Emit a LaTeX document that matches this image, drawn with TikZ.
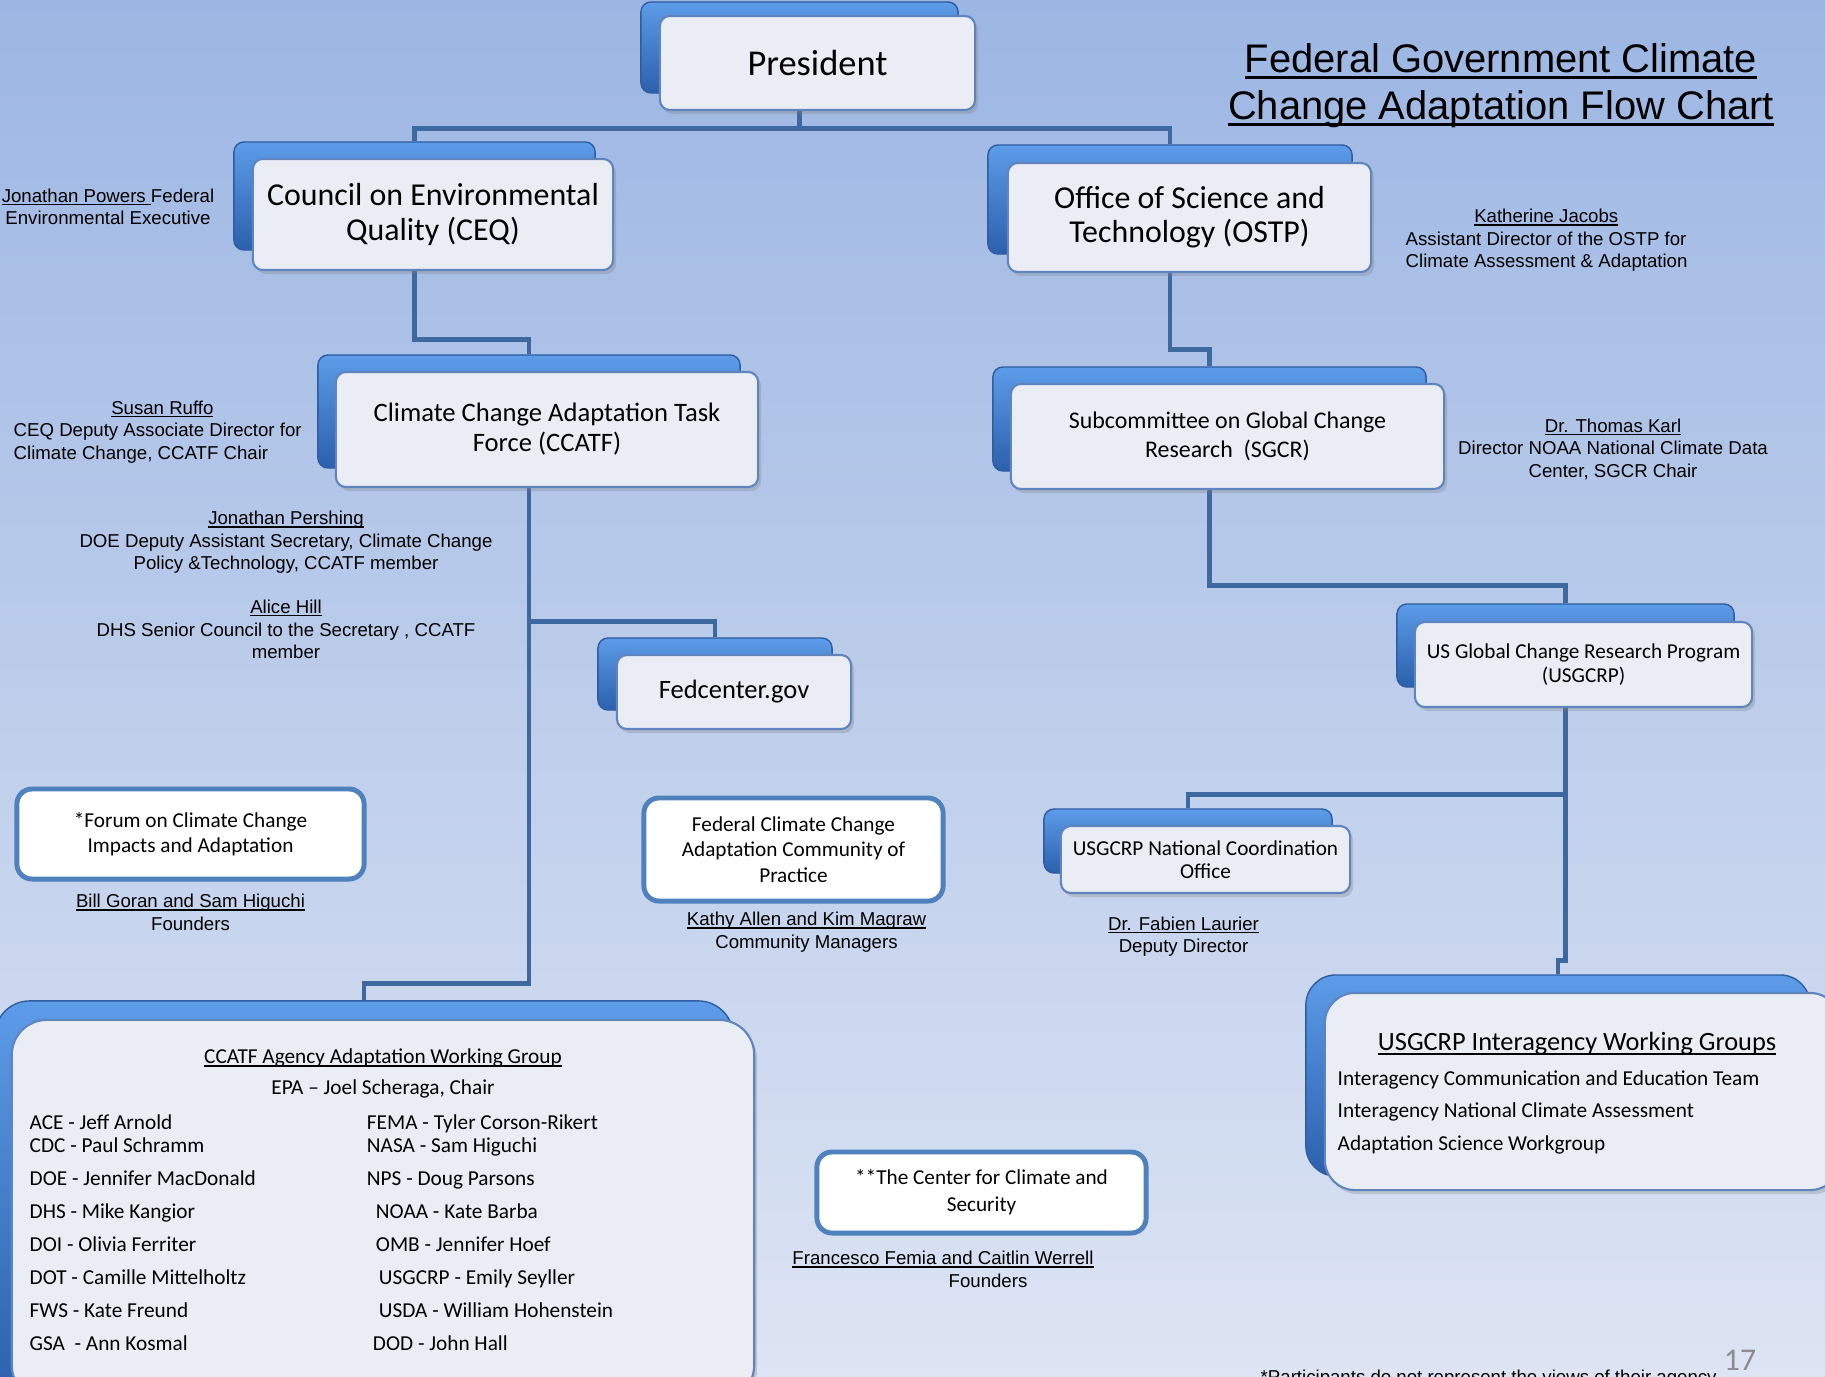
\documentclass[tikz,border=0pt]{standalone}
\usepackage{fontspec}
\setmainfont{Carlito}
\newfontfamily\arialfont{Liberation Sans}
\usetikzlibrary{positioning,shadows,matrix}

\definecolor{bgtop}{RGB}{156,182,227}
\definecolor{bgbottom}{RGB}{221,228,243}
\definecolor{backtop}{RGB}{92,156,232}
\definecolor{backbottom}{RGB}{43,96,172}
\definecolor{backline}{RGB}{48,92,160}
\definecolor{frontfill}{RGB}{234,237,243}
\definecolor{frontline}{RGB}{96,132,190}
\definecolor{linkline}{RGB}{79,129,189}
\definecolor{connline}{RGB}{62,104,160}
\definecolor{numgray}{RGB}{140,140,140}

\newsavebox\ulnbox
\newcommand\uln[1]{\sbox\ulnbox{#1}\rlap{\rule[-0.15em]{\wd\ulnbox}{0.07em}}\usebox\ulnbox}

\tikzset{
  backbox/.style={inner sep=0pt, rounded corners=0.1cm, top color=backtop, bottom color=backbottom, draw=backline, line width=0.4pt},
  frontbox/.style={inner sep=0pt, rounded corners=0.1cm, fill=frontfill, draw=frontline, line width=0.6pt, align=center,
    drop shadow={opacity=0.3, shadow xshift=0.03cm, shadow yshift=-0.04cm}},
  linkbox/.style={inner sep=0pt, rounded corners=0.15cm, fill=white, draw=linkline, line width=1.4pt, align=center,
    font=\fontsize{6.04}{7.3}\selectfont},
  note/.style={inner sep=0pt, align=center, font=\arialfont\fontsize{5.3}{6.4}\selectfont},
  conn/.style={draw=connline, line width=1.3pt},
}

\begin{document}
\begin{tikzpicture}[x=0.01cm, y=-0.01cm]
  \fill[top color=bgtop, bottom color=bgbottom] (0,0) rectangle (1825,1376);
  \useasboundingbox (0,0) rectangle (1825,1376);
  \clip (0,0) rectangle (1825,1376);

  \node[backbox, minimum width=3.17cm, minimum height=0.91cm] (presb) at (799.5,47.5) {};
  \node[backbox, minimum width=3.61cm, minimum height=1.08cm] (ceqb) at (414.5,196) {};
  \node[backbox, minimum width=3.64cm, minimum height=1.09cm] (ostpb) at (1170,199.5) {};
  \node[backbox, minimum width=4.22cm, minimum height=1.13cm] (ccatfb) at (529,411.5) {};
  \node[backbox, minimum width=4.33cm, minimum height=1.04cm] (sgcrb) at (1209.5,419) {};
  \node[backbox, minimum width=2.34cm, minimum height=0.72cm] (fedb) at (715,674) {};
  \node[backbox, minimum width=3.37cm, minimum height=0.83cm] (usgcrpb) at (1565.5,645.5) {};
  \node[backbox, minimum width=2.88cm, minimum height=0.64cm] (ncob) at (1188,841) {};
  \node[backbox, rounded corners=0.3cm, minimum width=5.04cm, minimum height=2.01cm] (iwgb) at (1558,1075.5) {};
  \node[backbox, rounded corners=0.35cm, minimum width=7.38cm, minimum height=3.94cm] (wgb) at (364,1198) {};

  \draw[conn] (presb.south) -- ++(0,35) -| (ceqb.north);
  \draw[conn] (presb.south) -- ++(0,35) -| (ostpb.north);
  \draw[conn] (ceqb.south) -- ++(0,89) -| (ccatfb.north);
  \draw[conn] (ostpb.south) -- ++(0,95) -| (sgcrb.north);
  \draw[conn] (ccatfb.south) -- ++(0,153) -| (fedb.north);
  \draw[conn] (ccatfb.south) -- ++(0,515) -| (wgb.north);
  \draw[conn] (sgcrb.south) -- ++(0,114) -| (usgcrpb.north);
  \draw[conn] (usgcrpb.south) -- ++(0,107) -| (ncob.north);
  \draw[conn] (usgcrpb.south) -- ++(0,273) -| (iwgb.north);

  \node[frontbox, minimum width=3.15cm, minimum height=0.94cm, font=\fontsize{10.35}{12}\selectfont] (pres) at (817.5,63) {President};
  \node[frontbox, minimum width=3.60cm, minimum height=1.11cm, font=\fontsize{9.07}{9.7}\selectfont] (ceq) at (433,214.5) {Council on Environmental\\Quality (CEQ)};
  \node[frontbox, minimum width=3.63cm, minimum height=1.09cm, font=\fontsize{9.07}{9.7}\selectfont] (ostp) at (1189.5,217.5) {Office of Science and\\Technology (OSTP)};
  \node[frontbox, minimum width=4.22cm, minimum height=1.15cm, font=\fontsize{7.57}{8.5}\selectfont] (ccatf) at (547,429.5) {Climate Change Adaptation Task\\Force (CCATF)};
  \node[frontbox, minimum width=4.33cm, minimum height=1.05cm, font=\fontsize{6.8}{8.25}\selectfont] (sgcr) at (1227.5,436.5) {Subcommittee on Global Change\\Research\ \ (SGCR)};
  \node[frontbox, minimum width=2.34cm, minimum height=0.74cm, font=\fontsize{7.54}{9}\selectfont] (fed) at (734,692) {Fedcenter.gov};
  \node[frontbox, minimum width=3.37cm, minimum height=0.85cm, font=\fontsize{6.03}{6.8}\selectfont] (usgcrp) at (1583.5,664.5) {US Global Change Research Program\\(USGCRP)};
  \node[frontbox, minimum width=2.89cm, minimum height=0.67cm, font=\fontsize{6.04}{6.6}\selectfont] (nco) at (1205.5,859.5) {USGCRP National Coordination\\Office};
  \node[frontbox, rounded corners=0.3cm, minimum width=5.15cm, minimum height=1.97cm] (iwg) at (1582.5,1091.5) {};
  \node[frontbox, rounded corners=0.35cm, minimum width=7.42cm, minimum height=3.80cm] (wg) at (383,1210) {};

  \node[font=\fontsize{7.5}{9}\selectfont, inner sep=0pt] (iwgtitle) at (1577,1044) {\uln{USGCRP Interagency Working Groups}};
  \node[anchor=west, align=left, inner sep=0pt, font=\fontsize{6.05}{9.25}\selectfont] (iwglist) at (1337,1112)
    {Interagency Communication and Education Team\\Interagency National Climate Assessment\\Adaptation Science Workgroup};

  \node[font=\fontsize{6.05}{7}\selectfont, inner sep=0pt] (wgtitle) at (383,1058) {\uln{CCATF Agency Adaptation Working Group}};
  \node[font=\fontsize{6.05}{7}\selectfont, inner sep=0pt] (wgchair) at (383,1089) {EPA -- Joel Scheraga, Chair};
  \matrix (wgm) [matrix of nodes, anchor=north west, inner sep=0pt, column sep=1.11cm, row sep=0pt,
    nodes={inner sep=0pt, anchor=west, text height=0.16cm, text depth=0.07cm, font=\fontsize{6.05}{7}\selectfont}] at (29,1113) {
    ACE - Jeff Arnold & FEMA - Tyler Corson-Rikert \\
    CDC - Paul Schramm & NASA - Sam Higuchi \\[0.1cm]
    DOE - Jennifer MacDonald & NPS - Doug Parsons \\[0.1cm]
    DHS - Mike Kangior & \hspace*{0.09cm}NOAA - Kate Barba \\[0.1cm]
    DOI - Olivia Ferriter & \hspace*{0.09cm}OMB - Jennifer Hoef \\[0.1cm]
    DOT - Camille Mittelholtz & \hspace*{0.12cm}USGCRP - Emily Seyller \\[0.1cm]
    FWS - Kate Freund & \hspace*{0.12cm}USDA - William Hohenstein \\[0.1cm]
    GSA\ \ - Ann Kosmal & \hspace*{0.06cm}DOD - John Hall \\
  };

  \node[linkbox, minimum width=3.47cm, minimum height=0.90cm] (forum) at (190.5,834) {*Forum on Climate Change\\Impacts and Adaptation};
  \node[linkbox, minimum width=2.99cm, minimum height=1.03cm] (cop) at (793.5,849.5) {Federal Climate Change\\Adaptation Community of\\Practice};
  \node[linkbox, minimum width=3.29cm, minimum height=0.81cm, font=\fontsize{6.04}{7.6}\selectfont] (ccs) at (981.5,1192.5) {**The Center for Climate and\\Security};

  \node[note, below=0.12cm of forum] (forumnames) {\uln{Bill Goran and Sam Higuchi}\\Founders};
  \node[note, below=0.08cm of cop, xshift=0.13cm] (copnames) {\uln{Kathy Allen and Kim Magraw}\\Community Managers};
  \node[note, below=0.15cm of ccs, xshift=-0.385cm] (ccsnames) {\uln{Francesco Femia and Caitlin Werrell}\\\hspace*{0.9cm}Founders};
  \node[note, below=0.22cm of nco, xshift=-0.22cm] (laurier) {\uln{Dr. Fabien Laurier}\\Deputy Director};

  \node[note] (powers) at (108,207) {\uln{Jonathan Powers\ }Federal\\Environmental Executive};
  \node[note, anchor=west, align=left] (ruffo) at (13,432) {\hspace*{0.975cm}\uln{Susan Ruffo}\\CEQ Deputy Associate Director for\\Climate Change, CCATF Chair};
  \node[note] (pershing) at (286,542.5) {\uln{Jonathan Pershing}\\DOE Deputy Assistant Secretary, Climate Change\\Policy \&Technology, CCATF member};
  \node[note] (hill) at (286,629.5) {\uln{Alice Hill}\\DHS Senior Council to the Secretary , CCATF\\member};
  \node[note, anchor=west, align=left] (jacobs) at (1405,240.5) {\hspace*{0.685cm}\uln{Katherine Jacobs}\\Assistant Director of the OSTP for\\Climate Assessment \& Adaptation};
  \node[note] (karl) at (1613,449) {\uln{Dr. Thomas Karl}\\Director NOAA National Climate Data\\Center, SGCR Chair};

  \node[inner sep=0pt, align=center, font=\arialfont\fontsize{11.35}{13.4}\selectfont] (title) at (1501,86)
    {\uln{Federal Government Climate}\\\uln{Change Adaptation Flow Chart}};
  \node[note, anchor=north west] (footnote) at (1260,1369) {*Participants do not represent the views of their agency};
  \node[inner sep=0pt, text=numgray, font=\fontsize{9}{10}\selectfont] (pagenum) at (1740,1360) {17};
\end{tikzpicture}
\end{document}
